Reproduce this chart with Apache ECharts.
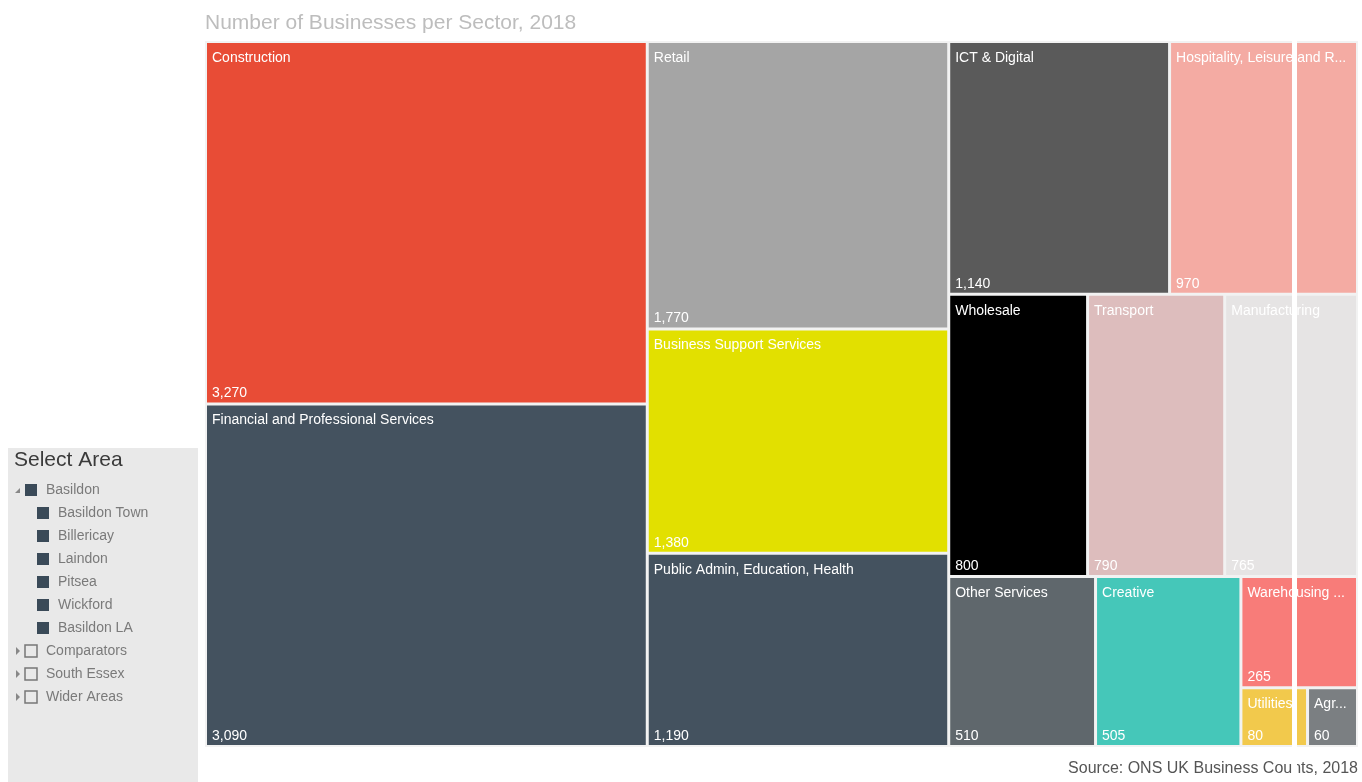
<!DOCTYPE html>
<html>
<head>
    <meta charset="utf-8">
    <title>Number of Businesses per Sector, 2018</title>
    <script src="https://cdn.jsdelivr.net/npm/echarts@6/dist/echarts.min.js"></script>
    <style>
        html, body { margin: 0; padding: 0; background: #fff; }
        #main { width: 1362px; height: 782px; }
    </style>
</head>
<body>
<div id="main"></div>
<script>
    // sectors and business counts
    var sectors = ['Construction', 'Financial and Professional Services', 'Retail', 'Business Support Services',
        'Public Admin, Education, Health', 'ICT & Digital', 'Hospitality, Leisure and Recreation', 'Wholesale',
        'Transport', 'Manufacturing', 'Other Services', 'Creative', 'Warehousing & Logistics', 'Utilities', 'Agriculture'];
    var counts = [3270, 3090, 1770, 1380, 1190, 1140, 970, 800, 790, 765, 510, 505, 265, 80, 60];
    var sectorColors = ['#e84c36', '#44525f', '#a5a5a5', '#e2e000', '#44525f', '#5a5a5a', '#f4aba3', '#000000',
        '#ddbdbd', '#e6e4e4', '#5f676c', '#45c7b9', '#f87c79', '#f2c94c', '#7b7f82'];

    // slicer entries
    var areaItems = ['Basildon', 'Basildon Town', 'Billericay', 'Laindon', 'Pitsea', 'Wickford', 'Basildon LA',
        'Comparators', 'South Essex', 'Wider Areas'];
    var areaLevel = [0, 1, 1, 1, 1, 1, 1, 0, 0, 0];
    var areaChecked = [true, true, true, true, true, true, true, false, false, false];

    function fmt(v) {
        return String(v).replace(/\B(?=(\d{3})+(?!\d))/g, ',');
    }

    var colorData = [];
    var valueData = [];
    for (var i = 0; i < sectors.length; i++) {
        colorData.push({name: sectors[i], value: counts[i], itemStyle: {color: sectorColors[i]}});
        valueData.push({name: sectors[i], value: counts[i], itemStyle: {color: 'rgba(0,0,0,0)'}});
    }

    var font = '"Liberation Sans", Arial, sans-serif';
    var box = {left: 205, top: 41, width: 1153, height: 706};

    // two identical treemaps: one draws cells + names, the other only the values at the bottom
    function treemapSeries(data, isValue) {
        return {
            type: 'treemap',
            left: box.left,
            top: box.top,
            width: box.width,
            height: box.height,
            roam: false,
            nodeClick: false,
            silent: isValue,
            animation: false,
            breadcrumb: {show: false},
            itemStyle: {
                borderWidth: 1,
                borderColor: isValue ? 'rgba(0,0,0,0)' : '#f2f2f2',
                gapWidth: 1
            },
            emphasis: {disabled: true},
            label: {
                show: true,
                position: isValue ? 'insideBottomLeft' : 'insideTopLeft',
                distance: 0,
                padding: isValue ? [0, 5, 2, 5] : [8, 5, 0, 5],
                color: '#fff',
                fontFamily: font,
                fontSize: 14,
                overflow: 'truncate',
                ellipsis: '...',
                formatter: isValue ? function (p) { return fmt(p.value); } : '{b}'
            },
            data: data
        };
    }

    // slicer graphics
    var slicer = [{
        type: 'rect', shape: {x: 8, y: 448, width: 190, height: 334},
        style: {fill: '#e9e9e9'}
    }, {
        type: 'text', x: 14, y: 460,
        style: {text: 'Select Area', fill: '#3a3a3a', font: '21px ' + font, textVerticalAlign: 'middle'}
    }];
    for (var j = 0; j < areaItems.length; j++) {
        var y = 490 + j * 23;
        var sx = areaLevel[j] ? 37 : 25;
        if (!areaLevel[j]) {
            slicer.push({
                type: 'polygon',
                shape: {points: j === 0 ? [[20, y - 2], [20, y + 3], [15, y + 3]] : [[16, y - 4], [16, y + 4], [20, y]]},
                style: {fill: '#888'}
            });
        }
        slicer.push({
            type: 'rect',
            shape: {x: sx, y: y - 6, width: 12, height: 12},
            style: areaChecked[j] ? {fill: '#3a4a58'} : {fill: 'none', stroke: '#777', lineWidth: 1.5}
        });
        slicer.push({
            type: 'text', x: sx + 9 + 12, y: y,
            style: {text: areaItems[j], fill: '#7a7a7a', font: '14px ' + font, textVerticalAlign: 'middle'}
        });
    }

    var myChart = echarts.init(document.getElementById('main'));
    myChart.setOption({
        title: {
            text: 'Number of Businesses per Sector, 2018',
            left: 200,
            top: 8,
            textStyle: {color: '#bdbdbd', fontSize: 21, fontWeight: 'normal', fontFamily: font}
        },
        graphic: slicer.concat([{
            type: 'text', right: 4, top: 761,
            style: {text: 'Source: ONS UK Business Counts, 2018', fill: '#555', font: '16px ' + font}
        }, {
            type: 'rect', z: 100,
            shape: {x: 1292, y: 38, width: 5, height: 744},
            style: {fill: '#fff'}
        }]),
        series: [treemapSeries(colorData, false), treemapSeries(valueData, true)]
    });
</script>
</body>
</html>
